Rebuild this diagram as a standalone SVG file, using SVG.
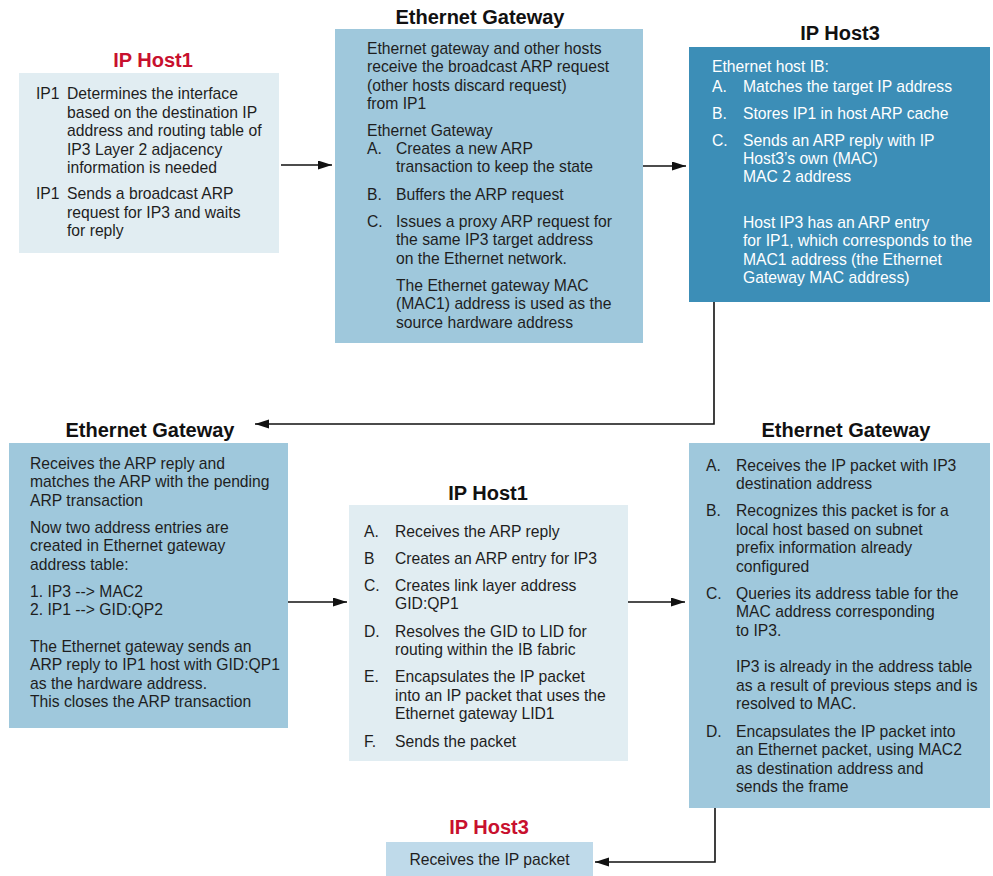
<svg xmlns="http://www.w3.org/2000/svg" width="993" height="876" viewBox="0 0 993 876">
  <style>
    .bg { fill: #ffffff; }
    .light { fill: #e1edf2; }
    .mid { fill: #9fc8dc; }
    .dark { fill: #3c8eb7; }
    .pale { fill: #bfdaea; }
    .title { font-family: "Liberation Sans", Arial, sans-serif; font-size: 20px; font-weight: bold; text-anchor: middle; fill: #111111; }
    .red { fill: #c8102e; }
    .t { font-family: "Liberation Sans", Arial, sans-serif; font-size: 15.7px; fill: #1e1e1e; }
    .w { fill: #ffffff; }
    .conn { fill: none; stroke: #111111; stroke-width: 1.6; }
  </style>
  <defs>
    <marker id="arrow" markerUnits="userSpaceOnUse" markerWidth="15" markerHeight="10" refX="14" refY="4.5" orient="auto">
      <path d="M0,0 L14,4.5 L0,9 z" fill="#111111"/>
    </marker>
  </defs>

  <rect class="bg" x="0" y="0" width="993" height="876"/>

  <!-- IP Host1: resolve interface, broadcast ARP -->
  <g id="host1-start">
    <text class="title red" x="153" y="67">IP Host1</text>
    <rect class="light" x="19" y="73" width="260" height="180"/>
    <g class="t">
      <text x="36" y="99">IP1</text>
      <text x="67" y="99">Determines the interface</text>
      <text x="67" y="117.5">based on the destination IP</text>
      <text x="67" y="136">address and routing table of</text>
      <text x="67" y="154.5">IP3 Layer 2 adjacency</text>
      <text x="67" y="173">information is needed</text>
      <text x="36" y="199">IP1</text>
      <text x="67" y="199">Sends a broadcast ARP</text>
      <text x="67" y="217.5">request for IP3 and waits</text>
      <text x="67" y="236">for reply</text>
    </g>
  </g>

  <!-- Ethernet Gateway: proxy ARP request -->
  <g id="gateway-proxy">
    <text class="title" x="480" y="24">Ethernet Gateway</text>
    <rect class="mid" x="335" y="29" width="308" height="314"/>
    <g class="t">
      <text x="367" y="53.5">Ethernet gateway and other hosts</text>
      <text x="367" y="72">receive the broadcast ARP request</text>
      <text x="367" y="90.5">(other hosts discard request)</text>
      <text x="367" y="109">from IP1</text>
      <text x="367" y="135.5">Ethernet Gateway</text>
      <text x="367" y="153.5">A.</text>
      <text x="396" y="153.5">Creates a new ARP</text>
      <text x="396" y="172">transaction to keep the state</text>
      <text x="367" y="199.5">B.</text>
      <text x="396" y="199.5">Buffers the ARP request</text>
      <text x="367" y="226.5">C.</text>
      <text x="396" y="226.5">Issues a proxy ARP request for</text>
      <text x="396" y="245">the same IP3 target address</text>
      <text x="396" y="263.5">on the Ethernet network.</text>
      <text x="396" y="290.5">The Ethernet gateway MAC</text>
      <text x="396" y="309">(MAC1) address is used as the</text>
      <text x="396" y="327.5">source hardware address</text>
    </g>
  </g>

  <!-- IP Host3: ARP reply -->
  <g id="host3-reply">
    <text class="title" x="840" y="40">IP Host3</text>
    <rect class="dark" x="689" y="47" width="301" height="255"/>
    <g class="t w">
      <text x="712" y="71.5">Ethernet host IB:</text>
      <text x="712" y="91.5">A.</text>
      <text x="743" y="91.5">Matches the target IP address</text>
      <text x="712" y="118.5">B.</text>
      <text x="743" y="118.5">Stores IP1 in host ARP cache</text>
      <text x="712" y="145.5">C.</text>
      <text x="743" y="145.5">Sends an ARP reply with IP</text>
      <text x="743" y="164">Host3’s own (MAC)</text>
      <text x="743" y="182">MAC 2 address</text>
      <text x="743" y="227.5">Host IP3 has an ARP entry</text>
      <text x="743" y="246">for IP1, which corresponds to the</text>
      <text x="743" y="264.5">MAC1 address (the Ethernet</text>
      <text x="743" y="283">Gateway MAC address)</text>
    </g>
  </g>

  <!-- Ethernet Gateway: ARP reply handling -->
  <g id="gateway-reply">
    <text class="title" x="150" y="437">Ethernet Gateway</text>
    <rect class="mid" x="9" y="443" width="279" height="285"/>
    <g class="t">
      <text x="30" y="468.5">Receives the ARP reply and</text>
      <text x="30" y="487">matches the ARP with the pending</text>
      <text x="30" y="505.5">ARP transaction</text>
      <text x="30" y="532.5">Now two address entries are</text>
      <text x="30" y="551">created in Ethernet gateway</text>
      <text x="30" y="569.5">address table:</text>
      <text x="30" y="596.5">1. IP3 --&gt; MAC2</text>
      <text x="30" y="615">2. IP1 --&gt; GID:QP2</text>
      <text x="30" y="651.5">The Ethernet gateway sends an</text>
      <text x="30" y="670">ARP reply to IP1 host with GID:QP1</text>
      <text x="30" y="688.5">as the hardware address.</text>
      <text x="30" y="707">This closes the ARP transaction</text>
    </g>
  </g>

  <!-- IP Host1: build and send packet -->
  <g id="host1-send">
    <text class="title" x="488" y="500">IP Host1</text>
    <rect class="light" x="349" y="505" width="279" height="256"/>
    <g class="t">
      <text x="364" y="536.5">A.</text>
      <text x="395" y="536.5">Receives the ARP reply</text>
      <text x="364" y="563.5">B</text>
      <text x="395" y="563.5">Creates an ARP entry for IP3</text>
      <text x="364" y="590.5">C.</text>
      <text x="395" y="590.5">Creates link layer address</text>
      <text x="395" y="609">GID:QP1</text>
      <text x="364" y="636.5">D.</text>
      <text x="395" y="636.5">Resolves the GID to LID for</text>
      <text x="395" y="655">routing within the IB fabric</text>
      <text x="364" y="682">E.</text>
      <text x="395" y="682">Encapsulates the IP packet</text>
      <text x="395" y="700.5">into an IP packet that uses the</text>
      <text x="395" y="719">Ethernet gateway LID1</text>
      <text x="364" y="746.5">F.</text>
      <text x="395" y="746.5">Sends the packet</text>
    </g>
  </g>

  <!-- Ethernet Gateway: forward to Ethernet -->
  <g id="gateway-forward">
    <text class="title" x="846" y="437">Ethernet Gateway</text>
    <rect class="mid" x="689" y="443" width="301" height="365"/>
    <g class="t">
      <text x="706" y="470.5">A.</text>
      <text x="736" y="470.5">Receives the IP packet with IP3</text>
      <text x="736" y="489">destination address</text>
      <text x="706" y="516">B.</text>
      <text x="736" y="516">Recognizes this packet is for a</text>
      <text x="736" y="534.5">local host based on subnet</text>
      <text x="736" y="553">prefix information already</text>
      <text x="736" y="571.5">configured</text>
      <text x="706" y="598.5">C.</text>
      <text x="736" y="598.5">Queries its address table for the</text>
      <text x="736" y="617">MAC address corresponding</text>
      <text x="736" y="635.5">to IP3.</text>
      <text x="736" y="672">IP3 is already in the address table</text>
      <text x="736" y="690.5">as a result of previous steps and is</text>
      <text x="736" y="709">resolved to MAC.</text>
      <text x="706" y="736.5">D.</text>
      <text x="736" y="736.5">Encapsulates the IP packet into</text>
      <text x="736" y="755">an Ethernet packet, using MAC2</text>
      <text x="736" y="773.5">as destination address and</text>
      <text x="736" y="792">sends the frame</text>
    </g>
  </g>

  <!-- IP Host3: delivery -->
  <g id="host3-receive">
    <text class="title red" x="489" y="834">IP Host3</text>
    <rect class="pale" x="386" y="842" width="207" height="34"/>
    <text class="t" x="489.5" y="865" text-anchor="middle">Receives the IP packet</text>
  </g>

  <!-- Flow connectors -->
  <g id="connectors">
    <path class="conn" d="M281,165 H332" marker-end="url(#arrow)"/>
    <path class="conn" d="M643,166 H686" marker-end="url(#arrow)"/>
    <path class="conn" d="M714,302 V424 H255" marker-end="url(#arrow)"/>
    <path class="conn" d="M288,602 H347" marker-end="url(#arrow)"/>
    <path class="conn" d="M628,602 H685" marker-end="url(#arrow)"/>
    <path class="conn" d="M715,808 V862 H595" marker-end="url(#arrow)"/>
  </g>
</svg>
